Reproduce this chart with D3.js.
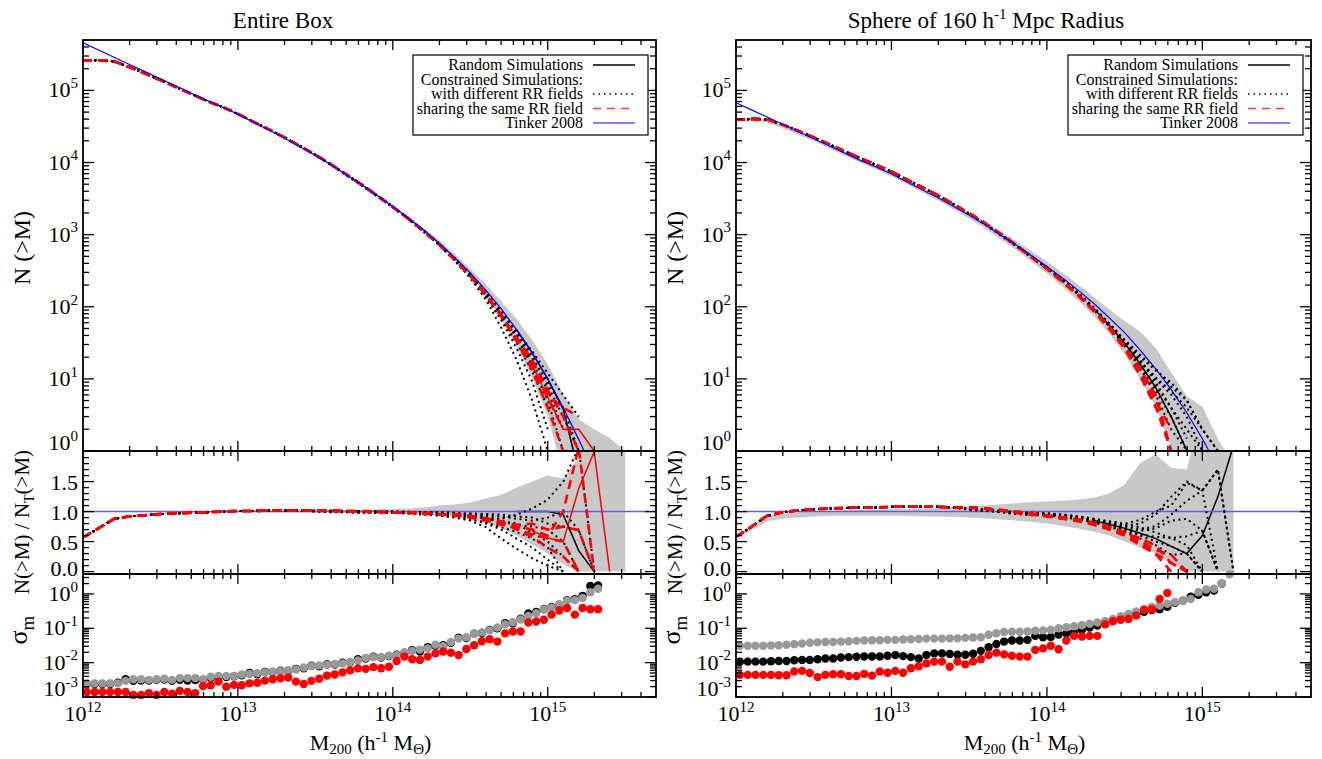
<!DOCTYPE html>
<html><head><meta charset="utf-8">
<script src="https://cdn.jsdelivr.net/npm/d3@7"></script>
<style>
body{margin:0;background:#fff}
svg{display:block}
text{font-family:"Liberation Serif","Times New Roman",serif;fill:#000}
</style>
</head><body>
<svg id="chart" width="1322" height="759"></svg>
<script>
// ---------------- DATA ----------------
const massGrid = [1e12,1.259e12,1.585e12,1.995e12,2.512e12,3.162e12,3.981e12,5.012e12,6.310e12,7.943e12,
  1e13,1.259e13,1.585e13,1.995e13,2.512e13,3.162e13,3.981e13,5.012e13,6.310e13,7.943e13,
  1e14,1.259e14,1.585e14,1.995e14,2.512e14,3.162e14,3.981e14,5.012e14,6.310e14,7.943e14,
  1e15,1.259e15,1.585e15,1.995e15,2.512e15,3.162e15];

const tinkerBox = [457000,363000,288000,229000,182000,145000,115000,91200,72400,58900,
  46800,36300,28200,21900,16600,12600,9330,6760,4900,3470,
  2450,1700,1150,759,479,295,170,93.3,47.9,22.9,
  10.0,3.98,1.45,0.50,0.141,0.0355];
const tinkerSphere = [67600,53700,42700,33900,26900,21400,17000,13500,10700,8710,
  6920,5370,4170,3240,2450,1860,1380,1000,724,513,
  363,251,170,112,70.8,43.7,25.1,13.8,7.08,3.39,
  1.48,0.589,0.214,0.0741,0.0209,0.00525];

// ratio N/N_T, masses 1e12 .. 2.5e13 (shared low-mass part)
const boxRatioLow = [0.57,0.72,0.88,0.92,0.94,0.96,0.97,0.98,0.99,1.00,1.01,1.01,1.02,1.02,1.02];
const sphereRatioLow = [0.58,0.75,0.93,0.99,1.02,1.04,1.05,1.06,1.07,1.07,1.08,1.08,1.08,1.08,1.07];
const emptyLow = [null,null,null,null,null,null,null,null,null,null,null,null,null,null,null];

// ratio tails, masses 3.16e13 .. 3.16e15
const boxRandomTail = [null,null,null,null,null,null,null,null,null,null,null,null,null,1.00,1.00,1.00,0.95,0.35,0];
const boxDottedTails = [
  [1.01,1.01,1.00,1.00,0.99,0.99,0.98,0.97,0.96,0.93,0.88,0.80,0.70,0.55,0.40,0.20,0],
  [1.00,1.00,0.99,0.98,0.98,0.98,0.97,0.95,0.93,0.90,0.85,0.74,0.55,0.38,0.22,0.10,0],
  [1.02,1.01,1.01,1.01,1.00,1.00,1.00,0.99,0.99,0.98,0.97,0.96,0.95,0.92,0.90,0.80,0.75,0.69,0],
  [1.01,1.00,1.00,0.99,0.99,0.99,0.99,0.98,0.97,0.95,0.93,0.90,0.85,0.80,0.65,0.50,0.25,0],
  [1.01,1.01,1.01,1.00,1.00,1.00,0.99,0.99,0.98,0.97,0.96,0.92,0.88,0.95,1.05,1.20,1.50,2.07,0],
  [1.00,0.99,0.99,0.98,0.98,0.98,0.97,0.96,0.94,0.91,0.87,0.82,0.74,0.66,0.55,0.40,0],
  [1.01,1.00,1.00,1.00,0.99,0.99,0.98,0.97,0.96,0.95,0.92,0.88,0.83,0.78,0.75,0.70,0.50,0],
  [1.02,1.02,1.01,1.01,1.01,1.00,0.99,0.98,0.98,0.97,0.95,0.94,0.92,0.88,0.85,0.90,1.00,0.69,0]
];
const boxDashedTails = [
  [1.02,1.01,1.01,1.00,1.00,0.99,0.98,0.97,0.96,0.95,0.93,0.88,0.80,0.72,0.62,0.55,0.50,0],
  [1.02,1.01,1.01,1.00,1.00,0.99,0.98,0.97,0.95,0.94,0.92,0.86,0.78,0.75,0.70,0.60,1.00,2.07,0],
  [1.01,1.01,1.00,1.00,0.99,0.98,0.98,0.96,0.95,0.93,0.90,0.85,0.82,0.78,0.80,0.70,0.75,0.69,0],
  [1.02,1.02,1.01,1.01,1.00,0.99,0.99,0.98,0.96,0.95,0.93,0.89,0.84,0.70,0.58,0.40,0.25,0]
];
const boxRedSolidTail = [null,null,null,null,null,null,null,null,null,null,null,null,null,null,0.68,0.56,0.50,1.38,2.0,0];

const sphereRandomTail = [null,null,null,null,null,null,null,null,0.85,0.79,0.72,0.64,0.55,0.42,0.30,0.60,1.25,2.10];
const sphereDottedTails = [
  [1.04,1.02,1.00,0.97,0.95,0.95,0.92,0.88,0.83,0.76,0.68,0.60,0.50,0.42,0.30,0],
  [1.05,1.03,1.01,0.99,0.97,0.97,0.95,0.92,0.88,0.82,0.76,0.80,0.95,1.25,1.50,1.35,0],
  [1.04,1.02,1.00,0.98,0.96,0.96,0.94,0.90,0.86,0.80,0.72,0.68,0.72,0.85,0.88,0.68,0],
  [1.03,1.01,0.99,0.96,0.94,0.94,0.91,0.87,0.82,0.75,0.66,0.55,0.44,0.28,0.30,0],
  [1.05,1.03,1.01,0.99,0.97,0.96,0.93,0.90,0.85,0.80,0.75,0.70,0.76,0.95,1.18,1.35,1.70,0],
  [1.04,1.02,1.00,0.97,0.96,0.95,0.92,0.89,0.85,0.78,0.70,0.62,0.58,0.56,0.59,0.68,0],
  [1.05,1.03,1.01,0.99,0.98,0.97,0.94,0.91,0.87,0.83,0.78,0.74,0.65,0.56,0.44,0],
  [1.04,1.03,1.01,0.99,0.97,0.96,0.95,0.92,0.88,0.84,0.80,0.86,1.00,1.10,1.48,1.35,1.70,0]
];
const sphereDashedTails = [
  [1.07,1.05,1.02,0.99,0.96,0.93,0.90,0.86,0.80,0.72,0.62,0.48,0.30,0.14,0],
  [1.07,1.06,1.03,1.00,0.97,0.94,0.91,0.87,0.82,0.75,0.66,0.52,0.36,0.28,0],
  [1.06,1.05,1.02,0.98,0.95,0.92,0.88,0.84,0.78,0.70,0.60,0.44,0.29,0],
  [1.07,1.05,1.03,1.00,0.96,0.93,0.89,0.85,0.81,0.74,0.63,0.56,0.43,0.14,0]
];

// random-simulation envelope (ratio), on massGrid
const boxBandLo = [0.55,0.70,0.86,0.91,0.93,0.95,0.96,0.97,0.98,0.98,0.99,0.99,0.99,0.99,0.99,0.99,0.99,0.98,0.98,0.98,
  0.97,0.96,0.95,0.94,0.92,0.88,0.82,0.72,0.60,0.45,0.30,0.12,0,0,0,0];
const boxBandHi = [0.59,0.74,0.90,0.94,0.96,0.98,0.99,1.00,1.01,1.02,1.02,1.03,1.03,1.03,1.03,1.03,1.03,1.03,1.03,1.04,
  1.04,1.05,1.07,1.10,1.12,1.15,1.22,1.28,1.40,1.50,1.60,1.55,1.90,4.0,10.7,28];
const sphereBandLo = [0.55,0.69,0.84,0.88,0.90,0.92,0.93,0.93,0.93,0.93,0.93,0.93,0.92,0.92,0.91,0.90,0.89,0.87,0.85,0.83,
  0.80,0.76,0.72,0.67,0.60,0.50,0.40,0.30,0.15,0,0,0,0];
const sphereBandHi = [0.60,0.76,0.93,0.97,0.99,1.00,1.01,1.02,1.03,1.03,1.04,1.04,1.05,1.06,1.08,1.08,1.10,1.12,1.14,1.16,
  1.17,1.18,1.20,1.23,1.30,1.45,1.81,1.95,1.73,1.70,2.8,2.5,3.0];

// sigma_m, on sigmaMass
const sigmaMass = [1.059e12,1.189e12,1.334e12,1.496e12,1.679e12,1.884e12,2.113e12,2.371e12,2.661e12,2.985e12,
  3.350e12,3.758e12,4.217e12,4.732e12,5.309e12,5.957e12,6.683e12,7.499e12,8.414e12,9.441e12,
  1.059e13,1.189e13,1.334e13,1.496e13,1.679e13,1.884e13,2.113e13,2.371e13,2.661e13,2.985e13,
  3.350e13,3.758e13,4.217e13,4.732e13,5.309e13,5.957e13,6.683e13,7.499e13,8.414e13,9.441e13,
  1.059e14,1.189e14,1.334e14,1.496e14,1.679e14,1.884e14,2.113e14,2.371e14,2.661e14,2.985e14,
  3.350e14,3.758e14,4.217e14,4.732e14,5.309e14,5.957e14,6.683e14,7.499e14,8.414e14,9.441e14,
  1.059e15,1.189e15,1.334e15,1.496e15,1.679e15,1.884e15,2.113e15];
const boxSigmaGrey = [2.5e-3,2.5e-3,2.5e-3,2.5e-3,2.5e-3,2.95e-3,3.3e-3,3.3e-3,3.15e-3,3.3e-3,
  3.4e-3,3.15e-3,3.55e-3,3.55e-3,3.55e-3,3.3e-3,3.9e-3,4.1e-3,4.1e-3,4.1e-3,
  4.5e-3,4.7e-3,4.9e-3,5.2e-3,5.5e-3,5.6e-3,6.0e-3,6.3e-3,7.2e-3,7.9e-3,
  8.3e-3,8.7e-3,9.1e-3,9.5e-3,1.05e-2,1.15e-2,1.38e-2,1.45e-2,1.45e-2,1.6e-2,
  1.65e-2,2.0e-2,2.2e-2,2.4e-2,2.6e-2,3.3e-2,3.0e-2,4.0e-2,5.0e-2,5.5e-2,
  6.8e-2,7.6e-2,8.7e-2,0.105,0.13,0.15,0.18,0.23,0.275,0.35,
  0.40,0.50,0.63,0.66,0.76,1.12,1.41];
const boxSigmaBlack = [2.4e-3,2.4e-3,2.4e-3,2.4e-3,2.6e-3,3.3e-3,2.95e-3,3.0e-3,3.0e-3,3.15e-3,
  3.2e-3,2.95e-3,3.15e-3,3.0e-3,3.1e-3,3.15e-3,3.55e-3,3.8e-3,3.8e-3,4.0e-3,
  4.3e-3,5.0e-3,4.6e-3,5.4e-3,5.3e-3,5.8e-3,5.7e-3,6.6e-3,6.9e-3,8.2e-3,
  7.8e-3,9.0e-3,8.8e-3,1.0e-2,1.02e-2,1.25e-2,1.32e-2,1.5e-2,1.4e-2,1.55e-2,
  1.7e-2,1.9e-2,2.3e-2,2.1e-2,2.8e-2,3.1e-2,3.2e-2,3.8e-2,5.3e-2,5.2e-2,
  7.0e-2,7.3e-2,9.0e-2,0.10,0.14,0.14,0.19,0.27,0.30,0.36,
  0.42,0.48,0.66,0.70,0.88,1.7,1.75];
const boxSigmaRed = [1.4e-3,1.4e-3,1.4e-3,1.4e-3,1.4e-3,1.4e-3,1.15e-3,1.15e-3,1.3e-3,1.15e-3,
  1.4e-3,1.25e-3,1.5e-3,1.4e-3,1.3e-3,2.1e-3,2.2e-3,2.8e-3,2.0e-3,2.25e-3,
  2.2e-3,2.5e-3,2.6e-3,3.0e-3,3.3e-3,3.5e-3,3.7e-3,2.8e-3,2.4e-3,2.95e-3,
  3.4e-3,4.2e-3,4.5e-3,5.2e-3,6.0e-3,6.8e-3,6.6e-3,7.4e-3,6.9e-3,7.6e-3,
  1.12e-2,1.5e-2,1.26e-2,1.2e-2,1.5e-2,1.86e-2,2.1e-2,1.95e-2,1.66e-2,2.5e-2,
  3.2e-2,4.2e-2,4.8e-2,4.1e-2,7.1e-2,8.1e-2,8.1e-2,0.148,0.158,0.178,
  0.25,0.33,0.39,0.25,0.39,0.36,0.36];
const sphereSigmaGrey = [3.1e-2,3.1e-2,3.1e-2,3.1e-2,3.15e-2,3.2e-2,3.3e-2,3.45e-2,3.6e-2,3.8e-2,
  3.9e-2,4.0e-2,4.0e-2,4.1e-2,4.2e-2,4.3e-2,4.4e-2,4.5e-2,4.5e-2,4.6e-2,
  4.6e-2,4.7e-2,4.8e-2,4.9e-2,5.0e-2,5.0e-2,5.0e-2,5.1e-2,5.1e-2,5.25e-2,
  5.4e-2,5.5e-2,6.5e-2,7.2e-2,7.8e-2,7.9e-2,7.9e-2,8.1e-2,8.5e-2,8.7e-2,
  9.1e-2,0.10,0.107,0.115,0.123,0.135,0.148,0.162,0.186,0.224,
  0.263,0.31,0.35,0.42,0.46,0.52,0.58,0.62,0.71,1.12,
  1.35,1.41,2.0,3.7];
const sphereSigmaBlack = [1.07e-2,1.07e-2,1.07e-2,1.07e-2,1.1e-2,1.12e-2,1.12e-2,1.17e-2,1.2e-2,1.2e-2,
  1.26e-2,1.32e-2,1.32e-2,1.41e-2,1.45e-2,1.48e-2,1.51e-2,1.51e-2,1.51e-2,1.58e-2,
  1.66e-2,1.55e-2,1.45e-2,1.32e-2,1.66e-2,1.86e-2,1.86e-2,1.78e-2,1.7e-2,1.7e-2,
  1.82e-2,2.2e-2,2.8e-2,3.5e-2,4.1e-2,4.4e-2,4.4e-2,4.6e-2,6.0e-2,5.5e-2,
  5.6e-2,6.6e-2,7.2e-2,7.8e-2,8.9e-2,0.105,0.12,0.145,0.178,0.20,
  0.25,0.27,0.30,0.34,0.36,0.42,0.55,0.63,0.83,0.95,
  1.12,1.26,2.0];
const sphereSigmaRed = [4.4e-3,4.4e-3,4.4e-3,4.4e-3,4.4e-3,4.3e-3,4.3e-3,5.5e-3,5.75e-3,5.0e-3,
  3.8e-3,4.4e-3,4.6e-3,4.6e-3,4.1e-3,4.1e-3,4.7e-3,4.2e-3,5.5e-3,5.1e-3,
  5.75e-3,5.1e-3,6.9e-3,7.8e-3,9.5e-3,1.07e-2,1.07e-2,7.6e-3,1.07e-2,8.9e-3,
  1.07e-2,1.26e-2,1.66e-2,1.95e-2,1.74e-2,1.58e-2,1.5e-2,1.5e-2,2.35e-2,2.6e-2,
  3.1e-2,2.45e-2,4.4e-2,6.0e-2,5.75e-2,6.0e-2,6.0e-2,0.13,0.16,0.178,
  0.186,0.234,0.35,0.36,0.71,1.07];

// tick labels / texts
const xTickExps = [12,13,14,15];
const nTickExps = [0,1,2,3,4,5];
const ratioTicks = [0.0,0.5,1.0,1.5];
const sigmaTickExps = [-3,-2,-1,0];
const legendLabels = ["Random Simulations","Constrained Simulations:","with different RR fields","sharing the same RR field","Tinker 2008"];
const legendKinds = ["random","none","dotted","dashed","tinker"];

// ---------------- LAYOUT ----------------
const svg = d3.select('#chart');
const ROWS = {top:[451,40], mid:[574,451], bot:[697,574]};
const yTopDomain = [1, 5e5], yMidDomain = [-0.04, 2.01], yBotDomain = [1e-3, 3.8];
const xDomain = [1e12, 5e15];

const STY = {
  dotted: {stroke:'#000', w:2, dash:'2,3.6'},
  random: {stroke:'#000', w:1.5, dash:null},
  dashed: {stroke:'#ff0000', w:2.6, dash:'9,6'},
  redsolid: {stroke:'#ff0000', w:1.5, dash:null},
  tinker: {stroke:'#0000ff', w:1.2, dash:null}
};

function logMinors(lo, hi){
  const out=[];
  for(let e=Math.floor(Math.log10(lo)); e<=Math.ceil(Math.log10(hi)); e++){
    for(let m=2;m<=9;m++){ const v=m*Math.pow(10,e); if(v>lo && v<hi) out.push(v); }
  }
  return out;
}

let clipId = 0;
function addClip(x0,y0,w,h){
  const id='clip'+(clipId++);
  svg.append('clipPath').attr('id',id).append('rect').attr('x',x0).attr('y',y0).attr('width',w).attr('height',h);
  return 'url(#'+id+')';
}

function frame(g, x, y, xMaj, xMin, yMaj, yMin){
  const [xa,xb]=x.range(); const [yb,ya]=y.range();
  const ticks=[];
  xMaj.forEach(v=>{const p=x(v); ticks.push([p,yb,p,yb-10],[p,ya,p,ya+10]);});
  xMin.forEach(v=>{const p=x(v); ticks.push([p,yb,p,yb-5],[p,ya,p,ya+5]);});
  yMaj.forEach(v=>{const p=y(v); ticks.push([xa,p,xa+11,p],[xb,p,xb-11,p]);});
  yMin.forEach(v=>{const p=y(v); ticks.push([xa,p,xa+6,p],[xb,p,xb-6,p]);});
  g.append('g').selectAll('line').data(ticks).join('line')
    .attr('x1',d=>d[0]).attr('y1',d=>d[1]).attr('x2',d=>d[2]).attr('y2',d=>d[3])
    .attr('stroke','#000').attr('stroke-width',1.3);
  g.append('rect').attr('x',xa).attr('y',ya).attr('width',xb-xa).attr('height',yb-ya)
    .attr('fill','none').attr('stroke','#000').attr('stroke-width',1.8);
}

function powLabel(t, exp, size){
  t.append('tspan').text('10');
  t.append('tspan').attr('font-size',Math.round(size*0.66)).attr('dy',-size*0.42).text(exp);
}

function drawPanel(cfg){
  const x = d3.scaleLog().domain(xDomain).range([cfg.x0, cfg.x1]);
  const yT = d3.scaleLog().domain(yTopDomain).range(ROWS.top);
  const yM = d3.scaleLinear().domain(yMidDomain).range(ROWS.mid);
  const yB = d3.scaleLog().domain(yBotDomain).range(ROWS.bot);
  const W = cfg.x1-cfg.x0;
  const g = svg.append('g');

  const full = (low, tail) => massGrid.map((m,i)=> i<low.length ? low[i] : (tail[i-low.length]===undefined ? null : tail[i-low.length]));
  const mk = r => massGrid.map((m,i)=>({m, r:r[i], n:(r[i]==null?null:r[i]*cfg.tinker[i])}));
  const dotted = cfg.dottedTails.map(t=>mk(full(cfg.low,t)));
  const dashed = cfg.dashedTails.map(t=>mk(full(cfg.low,t)));
  const random = mk(full(emptyLow, cfg.randomTail));
  const redSolid = cfg.redSolidTail ? mk(full(emptyLow, cfg.redSolidTail)) : null;
  const tinker = massGrid.map((m,i)=>({m, n:cfg.tinker[i], r:1}));
  const band = massGrid.map((m,i)=>({m, lo:cfg.bandLo[i], hi:cfg.bandHi[i], t:cfg.tinker[i]}))
    .filter(d=>d.lo!=null && d.hi!=null);

  const drawSet = (gg, line, sets, st) => sets.forEach(s=>{
    gg.append('path').datum(s).attr('fill','none').attr('stroke',st.stroke).attr('stroke-width',st.w)
      .attr('stroke-dasharray',st.dash).attr('d',line);
  });

  // ----- top panel -----
  const gT = g.append('g').attr('clip-path', addClip(cfg.x0, ROWS.top[1], W, ROWS.top[0]-ROWS.top[1]));
  gT.append('path').datum(band).attr('fill','#c8c8c8')
    .attr('d', d3.area().x(d=>x(d.m)).y0(d=>yT(Math.max(d.lo*d.t,0.05))).y1(d=>yT(Math.max(d.hi*d.t,0.05))));
  const lineT = d3.line().defined(d=>d.n!=null && d.n>0).x(d=>x(d.m)).y(d=>yT(d.n));
  drawSet(gT, lineT, [random], STY.random);
  drawSet(gT, lineT, dotted, STY.dotted);
  drawSet(gT, lineT, dashed, STY.dashed);
  if(redSolid) drawSet(gT, lineT, [redSolid], STY.redsolid);
  drawSet(gT, lineT, [tinker], STY.tinker);

  // ----- ratio panel -----
  const gM = g.append('g').attr('clip-path', addClip(cfg.x0, ROWS.mid[1], W, ROWS.mid[0]-ROWS.mid[1]));
  gM.append('path').datum(band).attr('fill','#c8c8c8')
    .attr('d', d3.area().x(d=>x(d.m)).y0(d=>yM(d.lo)).y1(d=>yM(d.hi)));
  const lineM = d3.line().defined(d=>d.r!=null).x(d=>x(d.m)).y(d=>yM(d.r));
  drawSet(gM, lineM, [random], STY.random);
  gM.append('line').attr('x1',x(xDomain[0])).attr('x2',x(xDomain[1])).attr('y1',yM(1)).attr('y2',yM(1))
    .attr('stroke','#5a5aff').attr('stroke-width',1.5);
  drawSet(gM, lineM, dotted, STY.dotted);
  drawSet(gM, lineM, dashed, STY.dashed);
  if(redSolid) drawSet(gM, lineM, [redSolid], STY.redsolid);

  // ----- sigma panel -----
  const gB = g.append('g');
  const dots = (arr, col) => gB.append('g').selectAll('circle')
    .data(arr.map((v,i)=>({m:sigmaMass[i], v})).filter(d=>d.v!=null))
    .join('circle').attr('cx',d=>x(d.m)).attr('cy',d=>yB(d.v)).attr('r',4.2).attr('fill',col);
  dots(cfg.sBlack,'#000000');
  dots(cfg.sGrey,'#999999');
  dots(cfg.sRed,'#ff0000');

  // ----- frames & ticks -----
  const xMaj = xTickExps.map(e=>Math.pow(10,e));
  const xMin = logMinors(xDomain[0], xDomain[1]);
  frame(g, x, yT, xMaj, xMin, nTickExps.map(e=>Math.pow(10,e)), logMinors(yTopDomain[0], yTopDomain[1]));
  const rMin = d3.range(0,21).map(i=>i/10).filter(v=>Math.abs(v*2-Math.round(v*2))>1e-6);
  frame(g, x, yM, xMaj, xMin, ratioTicks, rMin);
  frame(g, x, yB, xMaj, xMin, sigmaTickExps.map(e=>Math.pow(10,e)), logMinors(yBotDomain[0], yBotDomain[1]));

  // ----- tick labels -----
  const FS = 22;
  const lab = (py, bottom, up) => py + 7 - (py > bottom-3 ? up : 0);
  nTickExps.forEach(e=>{
    const t = g.append('text').attr('x',cfg.x0-5).attr('y',lab(yT(Math.pow(10,e)),ROWS.top[0],8)).attr('text-anchor','end').attr('font-size',FS);
    powLabel(t, String(e), FS);
  });
  ratioTicks.forEach(v=>{
    g.append('text').attr('x',cfg.x0-5).attr('y',lab(yM(v),ROWS.mid[0],4)+1).attr('text-anchor','end').attr('font-size',FS).text(d3.format('.1f')(v));
  });
  sigmaTickExps.forEach(e=>{
    const t = g.append('text').attr('x',cfg.x0-5).attr('y',lab(yB(Math.pow(10,e)),ROWS.bot[0],8)).attr('text-anchor','end').attr('font-size',FS);
    powLabel(t, String(e), FS);
  });
  xTickExps.forEach(e=>{
    const t = g.append('text').attr('x',x(Math.pow(10,e))).attr('y',721).attr('text-anchor','middle').attr('font-size',FS);
    powLabel(t, String(e), FS);
  });

  // ----- axis titles -----
  const yl = cfg.x0 - 53;
  g.append('text').attr('transform',`translate(${yl},248) rotate(-90)`).attr('text-anchor','middle').attr('font-size',24).text('N (>M)');
  const rt = g.append('text').attr('transform',`translate(${yl-1},522) rotate(-90)`).attr('text-anchor','middle').attr('font-size',21);
  rt.append('tspan').text('N(>M) / N');
  rt.append('tspan').attr('font-size',14).attr('dy',5).text('T');
  rt.append('tspan').attr('dy',-5).text('(>M)');
  const st = g.append('text').attr('transform',`translate(${yl-3},630) rotate(-90)`).attr('text-anchor','middle').attr('font-size',26);
  st.append('tspan').text('σ');
  st.append('tspan').attr('font-size',19).attr('dy',7).text('m');
  const xt = g.append('text').attr('x',(cfg.x0+cfg.x1)/2+1).attr('y',750).attr('text-anchor','middle').attr('font-size',22);
  xt.append('tspan').text('M');
  xt.append('tspan').attr('font-size',15).attr('dy',4).text('200');
  xt.append('tspan').attr('dy',-4).text(' (h');
  xt.append('tspan').attr('font-size',15).attr('dy',-8).text('-1');
  xt.append('tspan').attr('dy',8).text(' M');
  xt.append('tspan').attr('font-size',15).attr('dy',4).text('Θ');
  xt.append('tspan').attr('dy',-4).text(')');

  // ----- title -----
  const tt = g.append('text').attr('x',cfg.titleX).attr('y',28).attr('text-anchor','middle').attr('font-size',23);
  cfg.title.forEach(p=>{
    const s = tt.append('tspan').text(p.t);
    if(p.sup){ s.attr('font-size',15).attr('dy',-9); }
    if(p.after){ s.attr('dy',9); }
  });

  // ----- legend -----
  const bx = cfg.x1 - 243, by = 55;
  const lg = g.append('g');
  lg.append('rect').attr('x',bx).attr('y',by).attr('width',235).attr('height',80)
    .attr('fill','#fff').attr('stroke','#000').attr('stroke-width',1.2);
  legendLabels.forEach((txt,i)=>{
    const cy = by + 10 + i*14.5;
    lg.append('text').attr('x',bx+170).attr('y',cy+5).attr('text-anchor','end').attr('font-size',16).text(txt);
    const k = legendKinds[i];
    if(k==='none') return;
    const s = k==='dashed' ? {stroke:'#ff4040', w:1.6, dash:'8,6'} : (k==='dotted' ? {stroke:'#000',w:1.5,dash:'1.5,4'} : STY[k]);
    lg.append('line').attr('x1',bx+180).attr('x2',bx+222).attr('y1',cy).attr('y2',cy)
      .attr('stroke',s.stroke).attr('stroke-width',k==='random'?1.3:s.w).attr('stroke-dasharray',s.dash);
  });
}

drawPanel({
  x0:83, x1:656, tinker:tinkerBox, low:boxRatioLow, randomTail:boxRandomTail,
  dottedTails:boxDottedTails, dashedTails:boxDashedTails, redSolidTail:boxRedSolidTail,
  bandLo:boxBandLo, bandHi:boxBandHi, sGrey:boxSigmaGrey, sBlack:boxSigmaBlack, sRed:boxSigmaRed,
  titleX:283, title:[{t:'Entire Box'}]
});
drawPanel({
  x0:736, x1:1311, tinker:tinkerSphere, low:sphereRatioLow, randomTail:sphereRandomTail,
  dottedTails:sphereDottedTails, dashedTails:sphereDashedTails, redSolidTail:null,
  bandLo:sphereBandLo, bandHi:sphereBandHi, sGrey:sphereSigmaGrey, sBlack:sphereSigmaBlack, sRed:sphereSigmaRed,
  titleX:986, title:[{t:'Sphere of 160 h'},{t:'-1',sup:true},{t:' Mpc Radius',after:true}]
});
</script>
</body></html>
